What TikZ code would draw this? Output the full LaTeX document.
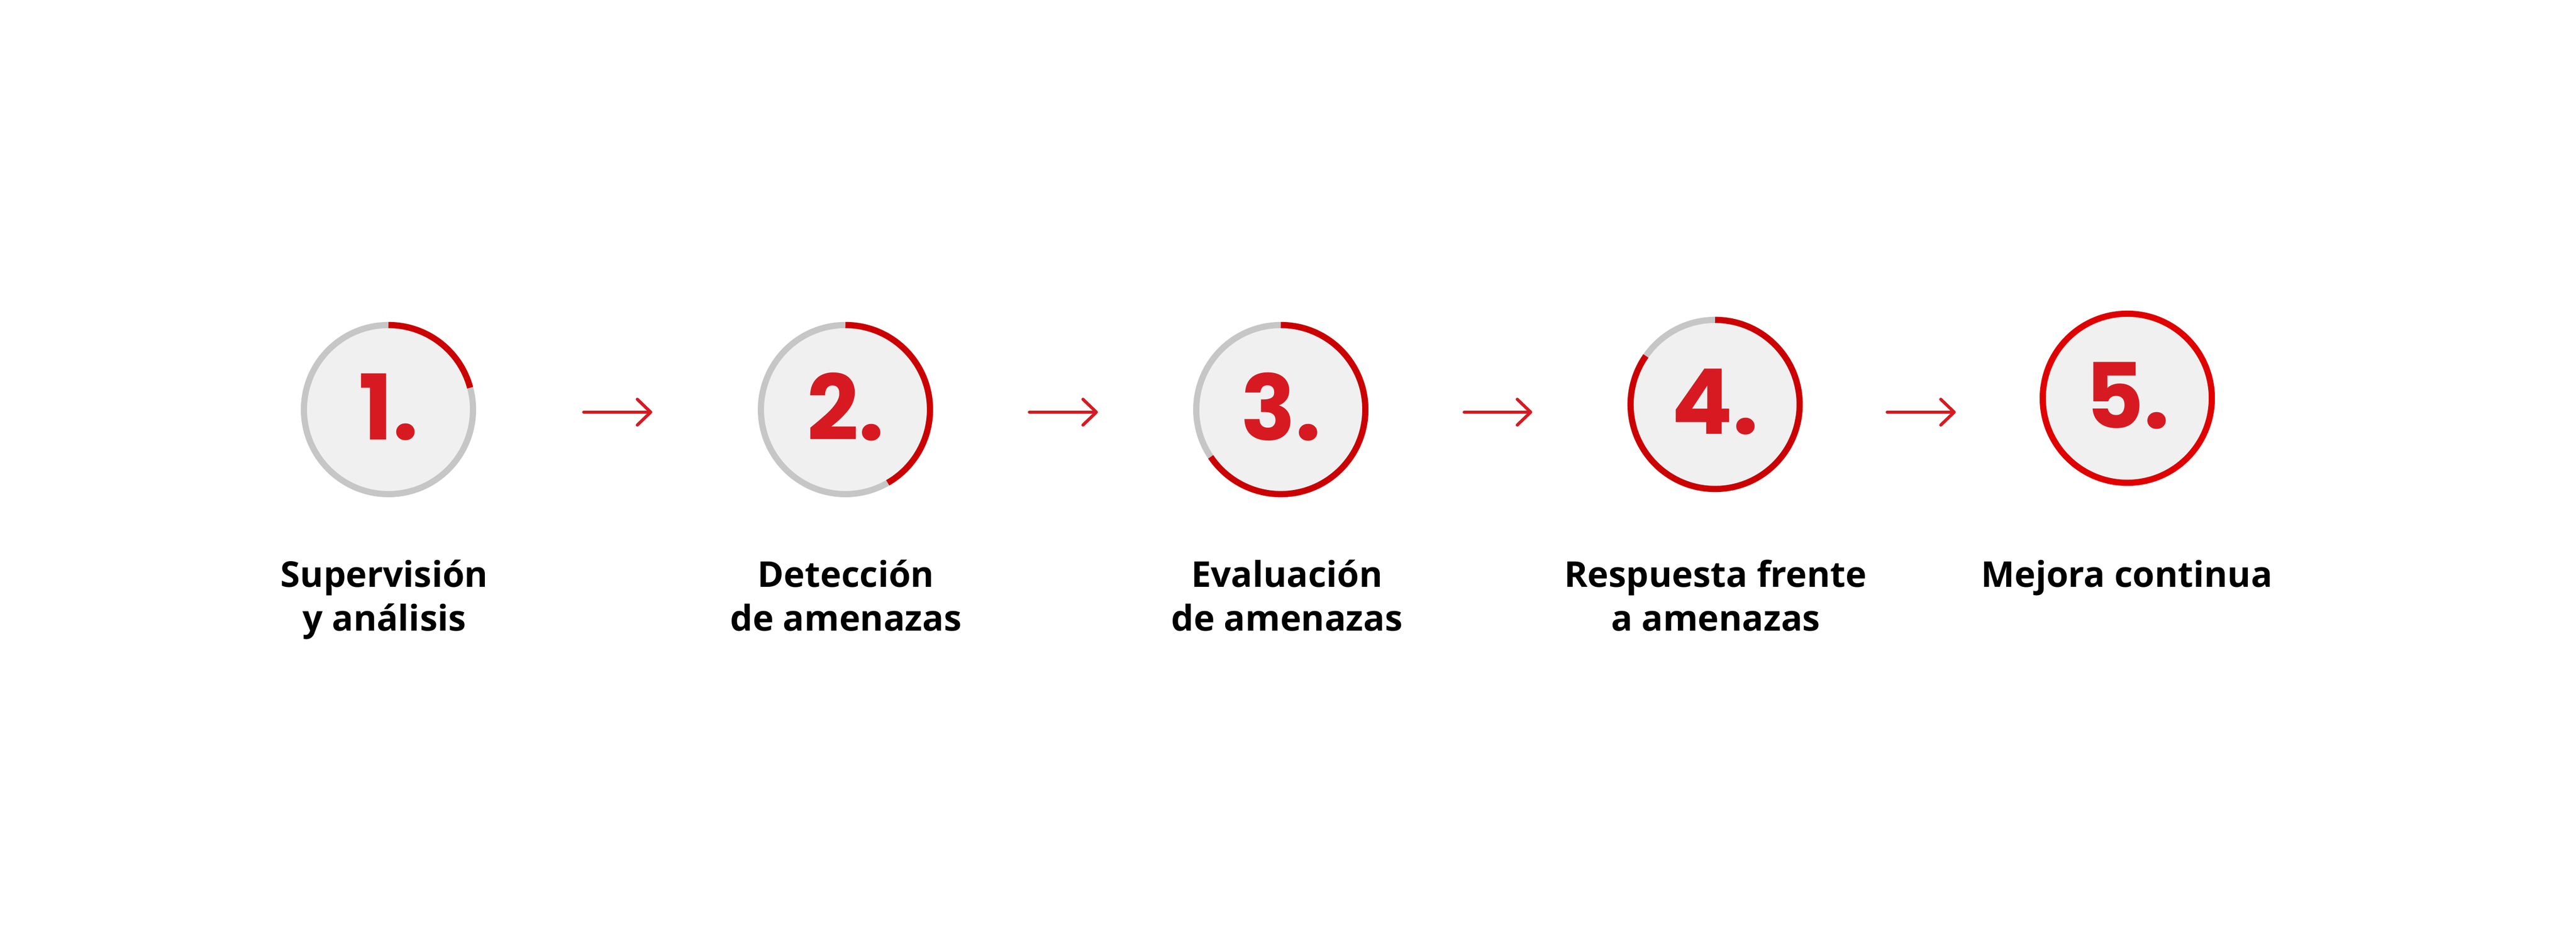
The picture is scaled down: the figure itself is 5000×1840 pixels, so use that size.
\documentclass[tikz,border=0pt]{standalone}
\usepackage{fontspec}
\setmainfont{Open Sans}
\newfontfamily\numfont{Poppins}
\usetikzlibrary{arrows.meta}
\definecolor{ringgray}{HTML}{C6C6C6}
\definecolor{disc}{HTML}{F0F0F0}
\definecolor{arcred}{HTML}{CC0000}
\definecolor{numred}{HTML}{D71A21}
\definecolor{fullred}{HTML}{E00000}
\begin{document}
\begin{tikzpicture}[x=0.01cm,y=0.01cm,
  stepcircle/.style={circle, fill=disc, draw=ringgray, line width=0.12cm,
    minimum size=3.28cm, inner sep=0pt, outer sep=0pt,
    font=\numfont\bfseries\fontsize{50}{50}\selectfont, text=numred, text depth=0.12cm},
  progress/.style={draw=arcred, line width=0.12cm},
  flow/.style={draw=numred, line width=0.06cm, line cap=round,
    -{Straight Barb[length=0.26cm, width=0.5cm, line cap=round, line join=round]}},
  steplabel/.style={anchor=base, align=center, font=\bfseries\fontsize{19.6}{24.2}\selectfont}]
\useasboundingbox (0,0) rectangle (5000,1840);

\node[stepcircle] (c1) at (754,1045) {1.};
\node[stepcircle] (c2) at (1641,1045) {2.};
\node[stepcircle] (c3) at (2486,1045) {3.};
\node[stepcircle] (c4) at (3329,1055) {4.};
\node[stepcircle, draw=fullred] (c5) at (4129,1067) {5.};

\draw[progress] (c1.90) arc[start angle=90, end angle=15, radius=1.64cm];
\draw[progress] (c2.90) arc[start angle=90, end angle=-60, radius=1.64cm];
\draw[progress] (c3.90) arc[start angle=90, end angle=-146, radius=1.64cm];
\draw[progress] (c4.90) arc[start angle=90, end angle=-215, radius=1.64cm];

\coordinate (a1s) at (1133,1040); \coordinate (a1e) at (1266,1040);
\coordinate (a2s) at (1998,1040); \coordinate (a2e) at (2131,1040);
\coordinate (a3s) at (2842,1040); \coordinate (a3e) at (2974,1040);
\coordinate (a4s) at (3663,1040); \coordinate (a4e) at (3796,1040);
\draw[flow] (a1s) -- (a1e);
\draw[flow] (a2s) -- (a2e);
\draw[flow] (a3s) -- (a3e);
\draw[flow] (a4s) -- (a4e);

% multi-line nodes: base anchor is the last line's baseline
\node[steplabel] (l1) at (746,615) {Supervisión\\y análisis};
\node[steplabel] (l2) at (1642,615) {Detección\\de amenazas};
\node[steplabel] (l3) at (2498,615) {Evaluación\\de amenazas};
\node[steplabel] (l4) at (3330,615) {Respuesta frente\\a amenazas};
\node[steplabel] (l5) at (4128,700) {Mejora continua};
\end{tikzpicture}
\end{document}
